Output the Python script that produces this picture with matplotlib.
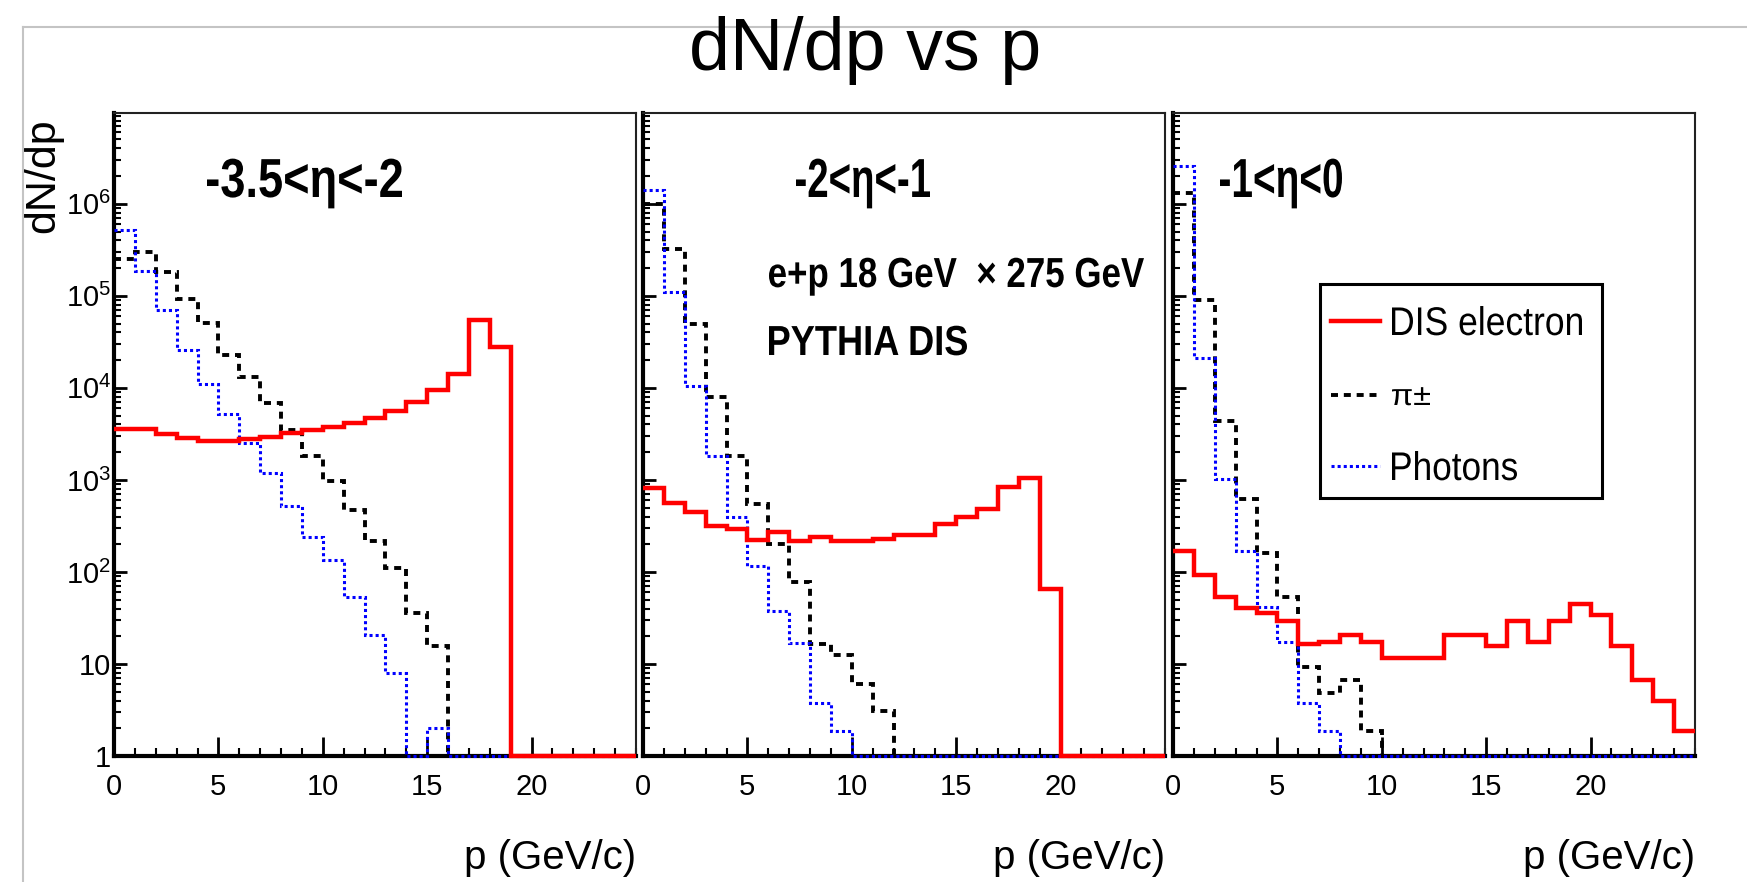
import numpy as np
import matplotlib
matplotlib.use('Agg')
import matplotlib.pyplot as plt
from matplotlib.lines import Line2D
from matplotlib.patches import PathPatch, Rectangle
from matplotlib.textpath import TextPath
from matplotlib.font_manager import FontProperties
from matplotlib.transforms import Affine2D
from matplotlib.ticker import MultipleLocator, LogLocator, FixedLocator, NullFormatter

FONT = 'Liberation Sans'
plt.rcParams['font.family'] = [FONT, 'DejaVu Sans']
plt.rcParams['mathtext.fontset'] = 'custom'
plt.rcParams['mathtext.rm'] = FONT
plt.rcParams['mathtext.it'] = FONT + ':italic'
plt.rcParams['mathtext.bf'] = FONT + ':bold'

# ---- data (bins of 1 GeV/c from 0 to 25) ----
edges = np.arange(0, 26)

eta_labels = ['-3.5<\u03b7<-2', '-2<\u03b7<-1', '-1<\u03b7<0']

electron_1 = [3600, 3600, 3150, 2860, 2650, 2650, 2800, 2900, 3200, 3500, 3800, 4150,
              4700, 5650, 7100, 9600, 14000, 54000, 27500, 0, 0, 0, 0, 0, 0]
pion_1 = [2.5e5, 3.0e5, 1.8e5, 9.3e4, 5.1e4, 2.3e4, 1.3e4, 6800, 3500, 1800, 970, 470,
          215, 110, 36, 15.5, 0, 0, 0, 0, 0, 0, 0, 0, 0]
photon_1 = [5.2e5, 1.85e5, 7.0e4, 2.6e4, 1.1e4, 5200, 2500, 1180, 520, 240, 136, 53,
            20.5, 7.9, 0, 2.0, 0, 0, 0, 0, 0, 0, 0, 0, 0]

electron_2 = [815, 565, 445, 315, 290, 225, 275, 215, 240, 215, 215, 230, 250, 250,
              335, 395, 478, 830, 1050, 66, 0, 0, 0, 0, 0]
pion_2 = [1.0e6, 3.2e5, 5.0e4, 7900, 1820, 550, 203, 78, 16.3, 12.4, 6.0, 3.1,
          0, 0, 0, 0, 0, 0, 0, 0, 0, 0, 0, 0, 0]
photon_2 = [1.4e6, 1.1e5, 1.05e4, 1800, 400, 116, 38, 17, 3.8, 1.85, 0, 0,
            0, 0, 0, 0, 0, 0, 0, 0, 0, 0, 0, 0, 0]

electron_3 = [170, 93, 53, 41, 36, 29, 16.4, 17.3, 20.4, 17.3, 11.7, 11.7, 11.7, 20.4,
              20.4, 15.5, 29, 17.3, 29, 45, 34, 15.5, 6.7, 4.0, 1.85]
pion_3 = [1.3e6, 9.0e4, 4400, 620, 162, 53, 9.3, 4.8, 6.7, 1.85, 0, 0,
          0, 0, 0, 0, 0, 0, 0, 0, 0, 0, 0, 0, 0]
photon_3 = [2.6e6, 2.1e4, 1020, 170, 42, 17.3, 3.8, 1.85, 0, 0, 0, 0,
            0, 0, 0, 0, 0, 0, 0, 0, 0, 0, 0, 0, 0]

electrons = [electron_1, electron_2, electron_3]
pions = [pion_1, pion_2, pion_3]
photons = [photon_1, photon_2, photon_3]

legend_labels = ['DIS electron', '\u03c0\u00b1', 'Photons']
y_tick_values = [1, 10, 1e2, 1e3, 1e4, 1e5, 1e6]
y_tick_labels = ['1', '10', '$10^{2}$', '$10^{3}$', '$10^{4}$', '$10^{5}$', '$10^{6}$']
x_tick_values = [0, 5, 10, 15, 20]

Y_MIN, Y_MAX = 1, 9.7e6

# ---- styles ----
RED_KW = dict(color='#ff0000', lw=3.2)
PI_KW = dict(color='black', lw=2.8, linestyle=(0, (1.8, 1.5)))
GAM_KW = dict(color='#0000ff', lw=2.2, linestyle=(0, (1.0, 1.0)))

W, H = 1747, 882
fig = plt.figure(figsize=(W / 100, H / 100), dpi=100)


def squeezed_text(x0, x1, baseline, s, em, weight='normal'):
    """Texte ROOT compressé : encre entre x0 et x1 (pixels, origine en haut)."""
    path = TextPath((0, 0), s, size=em, prop=FontProperties(family=FONT, weight=weight))
    ext = path.get_extents()
    sx = (x1 - x0) / ext.width
    tr = Affine2D().translate(-ext.x0, 0).scale(sx, 1).translate(x0, H - baseline)
    fig.add_artist(PathPatch(path, transform=tr, facecolor='black', edgecolor='none',
                             lw=0, zorder=9))


lefts = [114, 643, 1173]
axes = []
for i, left in enumerate(lefts):
    ax = fig.add_axes([left / W, 1 - 756 / H, 522 / W, 643 / H])
    axes.append(ax)

    ax.stairs(np.clip(pions[i], Y_MIN, None), edges, baseline=None, fill=False,
              zorder=4, clip_on=False, **PI_KW)
    ax.stairs(np.clip(photons[i], Y_MIN, None), edges, baseline=None, fill=False,
              zorder=5, clip_on=False, **GAM_KW)
    ax.stairs(np.clip(electrons[i], Y_MIN, None), edges, baseline=None, fill=False,
              zorder=6, clip_on=False, **RED_KW)

    ax.set_yscale('log')
    ax.set_ylim(Y_MIN, Y_MAX)
    ax.set_xlim(0, 25)

    ax.yaxis.set_major_locator(FixedLocator(y_tick_values))
    ax.yaxis.set_minor_locator(LogLocator(base=10, subs=np.arange(2, 10), numticks=30))
    ax.yaxis.set_minor_formatter(NullFormatter())
    ax.xaxis.set_major_locator(FixedLocator(x_tick_values))
    ax.xaxis.set_minor_locator(MultipleLocator(1))

    if i == 0:
        ax.set_yticklabels(y_tick_labels)
    else:
        ax.tick_params(axis='y', labelleft=False)
    ax.set_xticklabels([str(v) for v in x_tick_values])

    ax.tick_params(axis='both', which='both', direction='in', top=False, right=False,
                   colors='black', labelsize=21)
    ax.tick_params(axis='y', which='major', length=9, width=2, pad=2)
    ax.tick_params(axis='y', which='minor', length=5, width=1.5)
    ax.tick_params(axis='x', which='major', length=14, width=2, pad=12)
    ax.tick_params(axis='x', which='minor', length=6, width=1.5)

    for side in ['left', 'bottom']:
        ax.spines[side].set_linewidth(3)
        ax.spines[side].set_color('black')
    for side in ['top', 'right']:
        ax.spines[side].set_linewidth(1.5)
        ax.spines[side].set_color('#222222')

    ax.set_xlabel('p (GeV/c)', fontsize=29, loc='right')
    ax.xaxis.set_label_coords(1.0, -0.129)

axes[0].set_ylabel('dN/dp', fontsize=31, loc='top')
axes[0].yaxis.set_label_coords(-0.098, 0.992)

# étiquettes en eta (pixels de l'image de référence)
eta_spans = [(207, 402), (796, 930), (1220, 1342)]
for (x0, x1), lab in zip(eta_spans, eta_labels):
    squeezed_text(x0, x1, 197, lab, 55, weight='bold')

squeezed_text(769, 1144, 287, 'e+p 18 GeV  \u00d7 275 GeV', 42, weight='bold')
squeezed_text(769, 967, 355, 'PYTHIA DIS', 42, weight='bold')

# légende dessinée à la main (cadre, échantillons, textes compressés)
fig.add_artist(Rectangle((1320 / W, 1 - 498 / H), 282 / W, 214 / H, transform=fig.transFigure,
                         facecolor='white', edgecolor='black', lw=2.2, zorder=7))
legend_rows = [(321, 335, 1582, 40), (395, 405, 1430, 30), (466, 480, 1517, 40)]
for (yc, base, x1, em), kw, lab in zip(legend_rows, [RED_KW, PI_KW, GAM_KW], legend_labels):
    fig.add_artist(Line2D([1331 / W, 1380 / W], [1 - yc / H, 1 - yc / H],
                          transform=fig.transFigure, zorder=8, **kw))
    squeezed_text(1392, x1, base, lab, em)

# cadre gris du canevas
fig.add_artist(Line2D([23 / W, 23 / W], [0, 1 - 27 / H], transform=fig.transFigure,
                      color='#c4c4c4', lw=1.5))
fig.add_artist(Line2D([23 / W, 1], [1 - 27 / H, 1 - 27 / H], transform=fig.transFigure,
                      color='#c4c4c4', lw=1.5))

fig.text(865 / W, 1 - 70 / H, 'dN/dp vs p', ha='center', va='baseline',
         fontsize=53, zorder=5)

fig.savefig('out.png', dpi=100, facecolor='white')
